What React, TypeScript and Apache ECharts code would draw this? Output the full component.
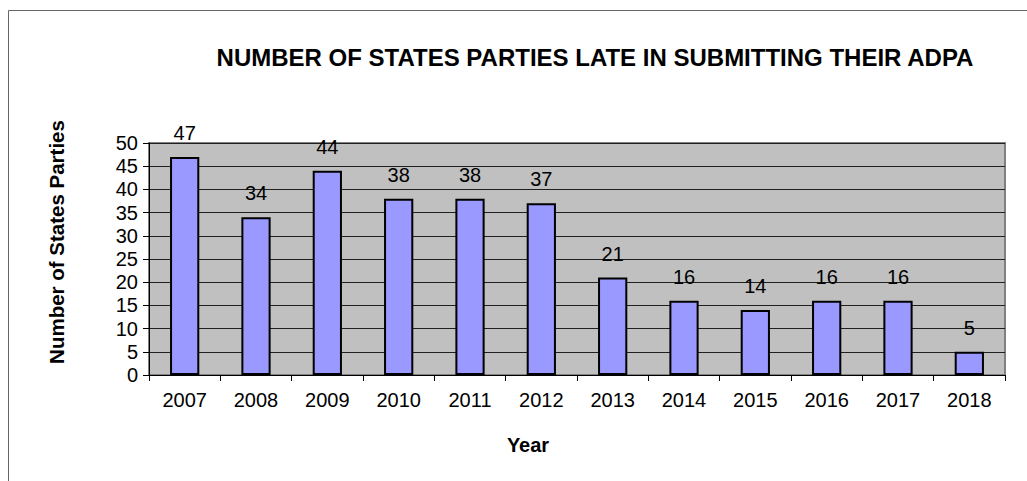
import React, { useEffect, useRef } from "react";
import * as echarts from "echarts";

const years = ["2007", "2008", "2009", "2010", "2011", "2012", "2013", "2014", "2015", "2016", "2017", "2018"];
const lateCounts = [47, 34, 44, 38, 38, 37, 21, 16, 14, 16, 16, 5];
const titleText = "NUMBER OF STATES PARTIES LATE IN SUBMITTING THEIR ADPA";
const yAxisTitle = "Number of States Parties";
const xAxisTitle = "Year";

const FONT = "'Liberation Sans', Arial, Helvetica, sans-serif";

export default function App() {
  const ref = useRef<HTMLDivElement>(null);
  useEffect(() => {
    if (!ref.current) return;
    const chart = echarts.init(ref.current, null, { renderer: "svg" });
    chart.setOption({
      animation: false,
      backgroundColor: "#ffffff",
      grid: {
        left: 149,
        top: 143,
        right: 22,
        bottom: 106,
        show: true,
        backgroundColor: "#C0C0C0",
        borderColor: "#808080",
        borderWidth: 2,
      },
      graphic: [
        {
          type: "rect",
          shape: { x: 8.5, y: 10.5, width: 1100, height: 600 },
          style: { fill: "none", stroke: "#666666", lineWidth: 1 },
          silent: true,
        },
        {
          type: "text",
          x: 595,
          y: 57,
          style: {
            text: titleText,
            font: `bold 24px ${FONT}`,
            fill: "#000",
            align: "center",
            verticalAlign: "middle",
          },
        },
        {
          type: "text",
          x: 56,
          y: 242,
          rotation: Math.PI / 2,
          style: {
            text: yAxisTitle,
            font: `bold 20.5px ${FONT}`,
            fill: "#000",
            align: "center",
            verticalAlign: "middle",
          },
        },
        {
          type: "text",
          x: 528,
          y: 445,
          style: {
            text: xAxisTitle,
            font: `bold 20px ${FONT}`,
            fill: "#000",
            align: "center",
            verticalAlign: "middle",
          },
        },
      ],
      xAxis: {
        type: "category",
        data: years,
        boundaryGap: true,
        axisLine: { show: true, lineStyle: { color: "#000", width: 1 } },
        axisTick: { show: true, alignWithLabel: false, length: 6, lineStyle: { color: "#000" } },
        axisLabel: { color: "#000", fontSize: 20, fontFamily: FONT, margin: 15, interval: 0 },
        splitLine: { show: false },
      },
      yAxis: {
        type: "value",
        min: 0,
        max: 50,
        interval: 5,
        axisLine: { show: true, lineStyle: { color: "#000", width: 1 } },
        axisTick: { show: true, length: 6, lineStyle: { color: "#000" } },
        axisLabel: { color: "#000", fontSize: 20, fontFamily: FONT, margin: 11 },
        splitLine: { show: true, lineStyle: { color: "#202020", width: 1 } },
      },
      series: [
        {
          type: "bar",
          data: lateCounts,
          barWidth: "41%",
          itemStyle: { color: "#9999FF", borderColor: "#000", borderWidth: 2 },
          label: {
            show: true,
            position: "top",
            distance: 14,
            color: "#000",
            fontSize: 20,
            fontFamily: FONT,
          },
        },
      ],
    });
    return () => chart.dispose();
  }, []);
  return (
    <div
      ref={ref}
      style={{ position: "fixed", left: 0, top: 0, width: 1027, height: 481 }}
    />
  );
}
